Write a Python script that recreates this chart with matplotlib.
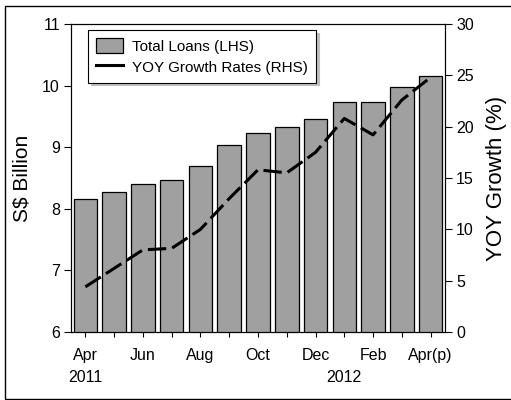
import matplotlib
matplotlib.use("Agg")
import matplotlib.pyplot as plt
from matplotlib.patches import Rectangle
from matplotlib.lines import Line2D
import numpy as np

plt.rcParams['font.family'] = ['Liberation Sans', 'DejaVu Sans']

months = ["Apr", "May", "Jun", "Jul", "Aug", "Sep", "Oct", "Nov", "Dec",
          "Jan", "Feb", "Mar", "Apr(p)"]
tick_labels = ["Apr", "", "Jun", "", "Aug", "", "Oct", "", "Dec", "", "Feb", "", "Apr(p)"]
loans = [8.16, 8.27, 8.41, 8.46, 8.70, 9.03, 9.23, 9.33, 9.46, 9.73, 9.74, 9.98, 10.16]
growth = [4.4, 6.2, 8.0, 8.15, 10.0, 13.0, 15.8, 15.5, 17.5, 20.8, 19.2, 22.6, 24.8]
years = [("2011", 0), ("2012", 9)]

fig = plt.figure(figsize=(5.11, 4.0), dpi=100)
ax = fig.add_axes([71/511, 68/400, 374/511, 308/400])
x = np.arange(len(months))

bars = ax.bar(x, loans, width=0.82, color='#a0a0a0', edgecolor='black',
              linewidth=0.9, label='Total Loans (LHS)', zorder=2)
ax.set_ylim(6, 11)
ax.set_xlim(-0.5, len(months) - 0.5)
ax.set_yticks([6, 7, 8, 9, 10, 11])
ax.set_xticks(x)
ax.set_xticklabels(tick_labels)
ax.tick_params(axis='y', direction='out', length=5, labelsize=11.5, width=0.8, pad=3)
ax.tick_params(axis='x', direction='inout', length=7, labelsize=11.5, width=0.8, pad=8)
ax.set_ylabel('S$ Billion', fontsize=15, labelpad=8)
for s in ax.spines.values():
    s.set_linewidth(0.8)

ax2 = ax.twinx()
line, = ax2.plot(x, growth, color='black', linewidth=2.2, linestyle=(0, (6, 2)),
                 label='YOY Growth Rates (RHS)', zorder=3)
ax2.set_ylim(0, 30)
ax2.set_yticks([0, 5, 10, 15, 20, 25, 30])
ax2.tick_params(axis='y', direction='out', length=5, labelsize=11.5, width=0.8, pad=3)
ax2.set_ylabel('YOY Growth (%)', fontsize=16, labelpad=9)
for s in ax2.spines.values():
    s.set_linewidth(0.8)

h_line = Line2D([], [], color='black', linewidth=2.2)
leg = ax2.legend([bars, h_line], ['Total Loans (LHS)', 'YOY Growth Rates (RHS)'],
                 loc='upper left', bbox_to_anchor=(17/374, 302/308), borderaxespad=0,
                 fontsize=11, fancybox=False, framealpha=1, edgecolor='black',
                 shadow={'facecolor': '0.75', 'edgecolor': '0.75', 'alpha': 1},
                 handlelength=1.8, handleheight=1.2, borderpad=0.5, labelspacing=0.35,
                 handletextpad=0.6)
leg.get_frame().set_linewidth(0.8)

for label, idx in years:
    ax.annotate(label, xy=(idx, 0), xycoords=('data', 'axes fraction'),
                xytext=(0, -27.4), textcoords='offset points', ha='center', va='top',
                fontsize=11.5)

fig.patches.append(Rectangle((5/511, 1/400), 1.0, 393/400, transform=fig.transFigure,
                             fill=False, edgecolor='black', linewidth=1.0, figure=fig))

fig.savefig('out.png', dpi=100)
